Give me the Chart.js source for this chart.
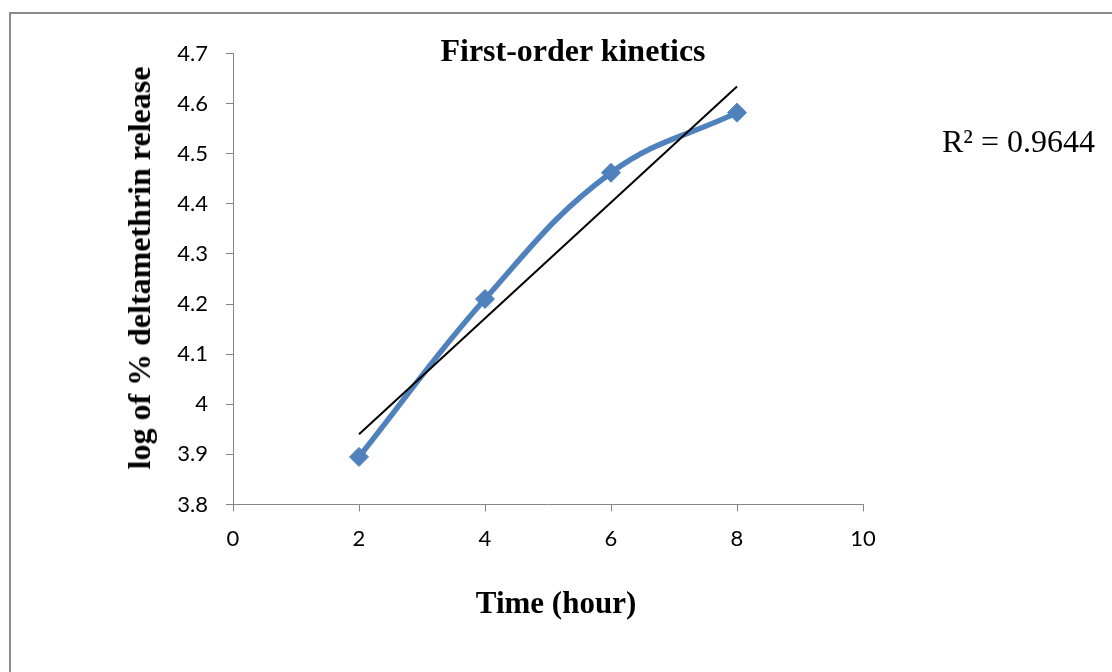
<!DOCTYPE html>
<html>
<head>
<meta charset="utf-8">
<script src="https://cdn.jsdelivr.net/npm/chart.js@4/dist/chart.umd.min.js"></script>
<style>
  html, body { margin: 0; padding: 0; background: #fff; }
  #wrap { position: relative; width: 1112px; height: 672px; overflow: hidden; }
  #frame { position: absolute; left: 9px; top: 12px; width: 1200px; height: 800px;
           border: 2px solid #8c8c8c; box-sizing: border-box; }
  canvas { position: absolute; left: 0; top: 0; }
  .lbl { position: absolute; font-family: "Liberation Serif", "Times New Roman", serif;
         color: #000; white-space: nowrap; line-height: 1; }
  #title { left: 573px; top: 50px; transform: translate(-50%, -50%); font-weight: bold; font-size: 32px; }
  #xtitle { left: 556px; top: 602px; transform: translate(-50%, -50%); font-weight: bold; font-size: 31px; }
  #ytitle { left: 139px; top: 268px; transform: translate(-50%, -50%) rotate(-90deg); font-weight: bold; font-size: 32px; }
  #r2 { left: 942px; top: 141px; transform: translateY(-50%); font-size: 32px; }
</style>
</head>
<body>
<div id="wrap">
  <div id="frame"></div>
  <canvas id="c" width="1112" height="672"></canvas>
  <div class="lbl" id="title">First-order kinetics</div>
  <div class="lbl" id="ytitle">log of % deltamethrin release</div>
  <div class="lbl" id="xtitle">Time (hour)</div>
  <div class="lbl" id="r2">R² = 0.9644</div>
</div>
<script>
// Sampling times (hours) and log of % deltamethrin released
const timeHours = [2, 4, 6, 8];
const logRelease = [3.895, 4.21, 4.462, 4.582];

// Axis ranges and tick steps
const xRange = [0, 10];
const xStep = 2;
const yRange = [3.8, 4.7];
const yStep = 0.1;

// Least-squares linear trend through the measured points
function linearFit(xs, ys) {
  const n = xs.length;
  const mx = xs.reduce((a, b) => a + b, 0) / n;
  const my = ys.reduce((a, b) => a + b, 0) / n;
  let sxy = 0, sxx = 0;
  for (let i = 0; i < n; i++) {
    sxy += (xs[i] - mx) * (ys[i] - my);
    sxx += (xs[i] - mx) * (xs[i] - mx);
  }
  const slope = sxy / sxx;
  return { slope, intercept: my - slope * mx };
}
const fit = linearFit(timeHours, logRelease);
const trendX = [timeHours[0], timeHours[timeHours.length - 1]];
const trendPoints = trendX.map(x => ({ x, y: fit.intercept + fit.slope * x }));

const seriesPoints = timeHours.map((x, i) => ({ x, y: logRelease[i] }));

const axisGrey = '#868686';
const blue = '#4F81BD';
const tickFont = { family: 'Lato, "Open Sans", sans-serif', size: 22 };

new Chart(document.getElementById('c'), {
  type: 'scatter',
  data: {
    datasets: [
      {
        label: 'Linear trend',
        data: trendPoints,
        showLine: true,
        borderColor: '#000',
        borderWidth: 2,
        pointRadius: 0,
        tension: 0,
        order: 0
      },
      {
        label: 'log of % deltamethrin release',
        data: seriesPoints,
        showLine: true,
        borderColor: blue,
        backgroundColor: blue,
        borderWidth: 5.5,
        tension: 0.4,
        pointStyle: 'rectRot',
        pointRadius: 9.5,
        pointBorderWidth: 1,
        pointBackgroundColor: blue,
        pointBorderColor: blue,
        order: 1
      }
    ]
  },
  options: {
    responsive: false,
    animation: false,
    devicePixelRatio: 1,
    layout: { padding: { left: 100, right: 249, top: 53.5, bottom: 52.5 } },
    plugins: {
      legend: { display: false },
      tooltip: { enabled: false },
      title: { display: false }
    },
    scales: {
      x: {
        type: 'linear',
        min: xRange[0],
        max: xRange[1],
        ticks: {
          stepSize: xStep,
          color: '#000',
          font: tickFont,
          padding: 14,
          maxRotation: 0
        },
        grid: { drawOnChartArea: false, drawTicks: true, tickLength: 7, color: axisGrey, lineWidth: 1 },
        border: { color: axisGrey, width: 1 },
        afterFit(scale) {
          scale.height = 115;
          scale.paddingLeft = 0;
          scale.paddingRight = 0;
        }
      },
      y: {
        type: 'linear',
        min: yRange[0],
        max: yRange[1],
        ticks: {
          stepSize: yStep,
          color: '#000',
          font: tickFont,
          padding: 18,
          callback: v => String(Number(v.toFixed(1)))
        },
        grid: { drawOnChartArea: false, drawTicks: true, tickLength: 7, color: axisGrey, lineWidth: 1 },
        border: { color: axisGrey, width: 1 },
        afterFit(scale) {
          scale.width = 133;
          scale.paddingTop = 0;
          scale.paddingBottom = 0;
        }
      }
    }
  }
});
</script>
</body>
</html>
